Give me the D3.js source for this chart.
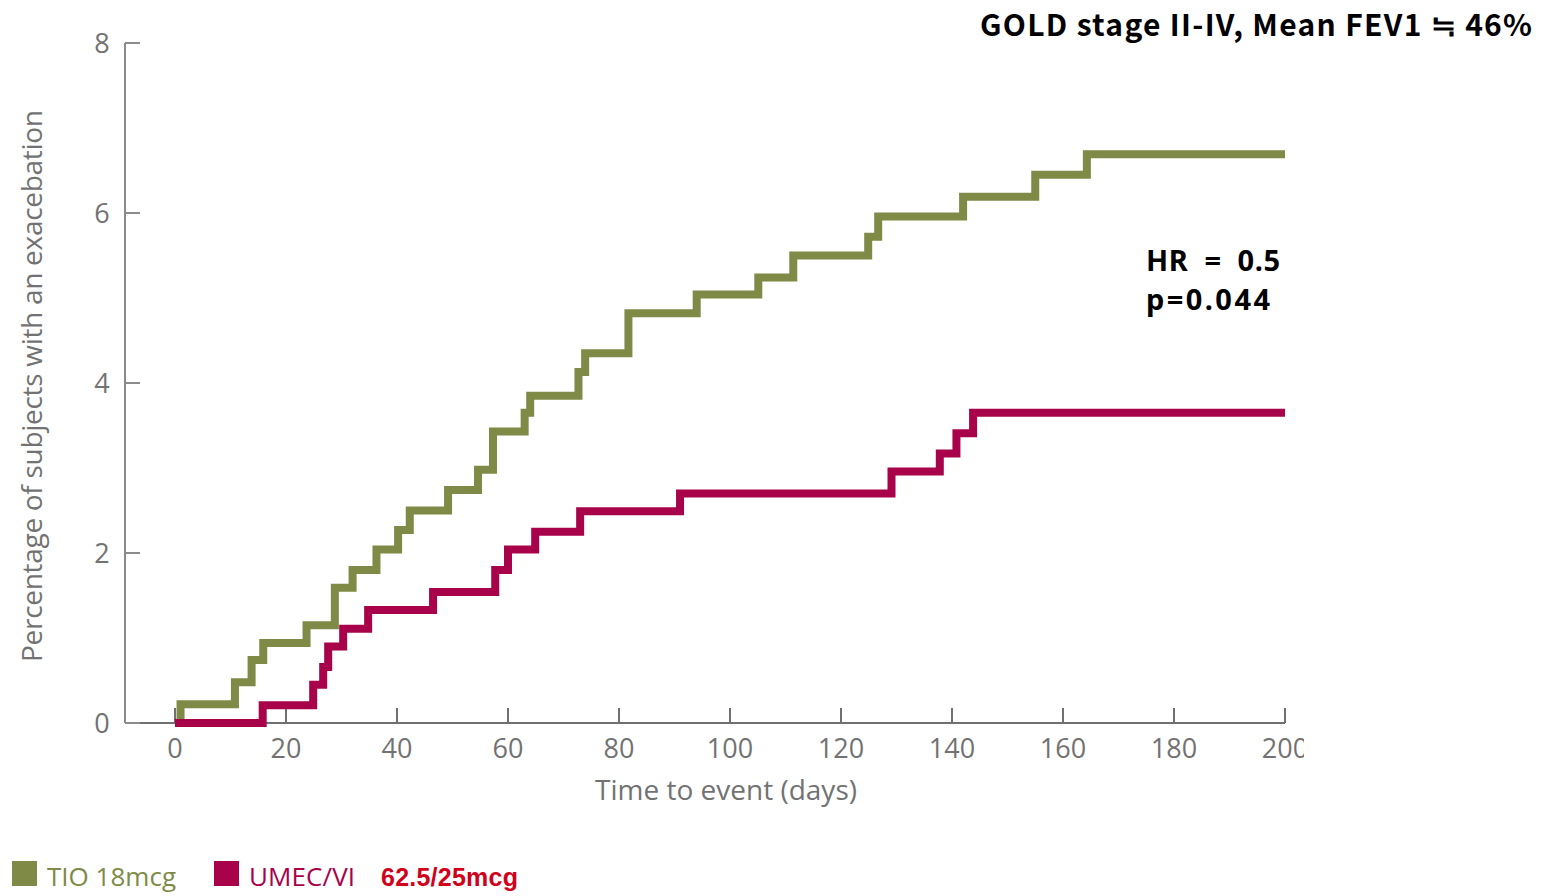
<!DOCTYPE html>
<html>
<head>
<meta charset="utf-8">
<script src="https://cdn.jsdelivr.net/npm/d3@7"></script>
<style>
  html, body { margin: 0; padding: 0; background: #fff; }
  svg { display: block; }
</style>
</head>
<body>
<svg id="chart" width="1550" height="896"></svg>
<script>
// Kaplan-Meier style cumulative incidence of exacerbation (step curves)
const tioDays   = [0, 1, 10.8, 13.8, 15.9, 23.7, 28.8, 32, 36.3, 40.2, 42.3, 49.2, 54.6, 57.3, 63, 64, 72.7, 73.9, 81.7, 94, 105.1, 111.4, 124.9, 126.7, 142, 155, 164.3, 200];
const tioPct    = [0, 0.22, 0.48, 0.74, 0.94, 1.15, 1.59, 1.80, 2.04, 2.27, 2.50, 2.74, 2.98, 3.43, 3.65, 3.85, 4.13, 4.35, 4.82, 5.04, 5.24, 5.50, 5.72, 5.96, 6.19, 6.45, 6.69, 6.69];
const umecDays  = [0, 15.8, 24.9, 26.7, 27.6, 30.3, 34.8, 46.5, 57.7, 60, 64.9, 73, 91, 129.1, 137.8, 140.8, 143.8, 200];
const umecPct   = [0, 0.21, 0.45, 0.66, 0.90, 1.11, 1.33, 1.54, 1.80, 2.04, 2.25, 2.49, 2.70, 2.96, 3.17, 3.41, 3.65, 3.65];
const xTicks    = [0, 20, 40, 60, 80, 100, 120, 140, 160, 180, 200];
const yTicks    = [0, 2, 4, 6, 8];
const seriesNames  = ["TIO 18mcg", "UMEC/VI"];
const seriesColors = ["#7e8a45", "#a8024b"];

const svg = d3.select("#chart");
const x = d3.scaleLinear().domain([0, 200]).range([175, 1285]);
const y = d3.scaleLinear().domain([0, 8]).range([723, 43]);

const axisColor = "#8c8c8c";
const labelColor = "#727272";
const tickFont = "'Open Sans', 'DejaVu Sans', sans-serif";

// axis lines
svg.append("line").attr("x1", 125).attr("x2", 125).attr("y1", y(8)).attr("y2", y(0))
  .attr("stroke", axisColor).attr("stroke-width", 2);
svg.append("line").attr("x1", 125).attr("x2", x(200)).attr("y1", y(0)).attr("y2", y(0))
  .attr("stroke", "#707070").attr("stroke-width", 2);

// y ticks (inward) and labels
const yg = svg.append("g");
yg.selectAll("line").data(yTicks).join("line")
  .attr("x1", 125).attr("x2", 140)
  .attr("y1", d => y(d)).attr("y2", d => y(d))
  .attr("stroke", axisColor).attr("stroke-width", 2);
yg.selectAll("text").data(yTicks).join("text")
  .attr("x", 102).attr("y", d => y(d)).attr("dy", "0.36em")
  .attr("text-anchor", "middle")
  .attr("font-family", tickFont).attr("font-size", 27)
  .attr("fill", labelColor).text(d => d);

// x ticks (inward) and labels, last label clipped at the right edge
svg.append("clipPath").attr("id", "xlabClip")
  .append("rect").attr("x", 0).attr("y", 0).attr("width", 1304).attr("height", 896);
const xg = svg.append("g");
xg.selectAll("line").data(xTicks).join("line")
  .attr("x1", d => x(d)).attr("x2", d => x(d))
  .attr("y1", y(0)).attr("y2", y(0) - 15)
  .attr("stroke", "#707070").attr("stroke-width", 2);
xg.append("g").attr("clip-path", "url(#xlabClip)")
  .selectAll("text").data(xTicks).join("text")
  .attr("x", d => x(d)).attr("y", 758)
  .attr("text-anchor", "middle")
  .attr("font-family", tickFont).attr("font-size", 27)
  .attr("fill", labelColor).text(d => d);

// axis titles
svg.append("text").attr("x", 726).attr("y", 800)
  .attr("text-anchor", "middle")
  .attr("font-family", tickFont).attr("font-size", 28)
  .attr("fill", labelColor).attr("textLength", 262)
  .text("Time to event (days)");
svg.append("text")
  .attr("transform", "translate(42,386) rotate(-90)")
  .attr("text-anchor", "middle")
  .attr("font-family", tickFont).attr("font-size", 28)
  .attr("fill", labelColor).attr("textLength", 552)
  .text("Percentage of subjects with an exacebation");

// step curves
const step = d3.line().x(d => x(d[0])).y(d => y(d[1])).curve(d3.curveStepAfter);
const series = [d3.zip(tioDays, tioPct), d3.zip(umecDays, umecPct)];
svg.selectAll("path.km").data(series).join("path")
  .attr("class", "km")
  .attr("d", step)
  .attr("fill", "none")
  .attr("stroke", (d, i) => seriesColors[i])
  .attr("stroke-width", 8)
  .attr("stroke-linejoin", "miter");

// annotations
svg.append("text").attr("x", 1532).attr("y", 36)
  .attr("text-anchor", "end")
  .attr("font-family", "'Noto Sans CJK KR', 'Noto Sans', sans-serif")
  .attr("font-weight", "bold").attr("font-size", 30)
  .attr("textLength", 552).attr("lengthAdjust", "spacing")
  .attr("fill", "#000").text("GOLD stage II-IV, Mean FEV1 \u2252 46%");
const statFont = "'Noto Sans', 'Open Sans', sans-serif";
svg.append("text").attr("x", 1146).attr("y", 271)
  .attr("font-family", statFont).attr("font-weight", "bold").attr("font-size", 29)
  .attr("textLength", 134)
  .attr("fill", "#000").attr("xml:space", "preserve").text("HR  =  0.5");
svg.append("text").attr("x", 1146).attr("y", 310)
  .attr("font-family", statFont).attr("font-weight", "bold").attr("font-size", 29)
  .attr("textLength", 124)
  .attr("fill", "#000").text("p=0.044");

// legend
const legend = svg.append("g");
const legendX = [12, 214];
legend.selectAll("rect").data(seriesNames).join("rect")
  .attr("x", (d, i) => legendX[i]).attr("y", 861)
  .attr("width", 25).attr("height", 25)
  .attr("fill", (d, i) => seriesColors[i]);
legend.selectAll("text.name").data(seriesNames).join("text")
  .attr("class", "name")
  .attr("x", (d, i) => legendX[i] + 35).attr("y", 886)
  .attr("font-family", tickFont).attr("font-size", 26)
  .attr("fill", (d, i) => seriesColors[i])
  .attr("textLength", (d, i) => [129, 106][i])
  .text(d => d);
legend.append("text").attr("x", 381).attr("y", 886)
  .attr("font-family", "'Liberation Sans', Arial, sans-serif")
  .attr("font-weight", "bold").attr("font-size", 25)
  .attr("textLength", 137)
  .attr("fill", "#d0021b").text("62.5/25mcg");
</script>
</body>
</html>
